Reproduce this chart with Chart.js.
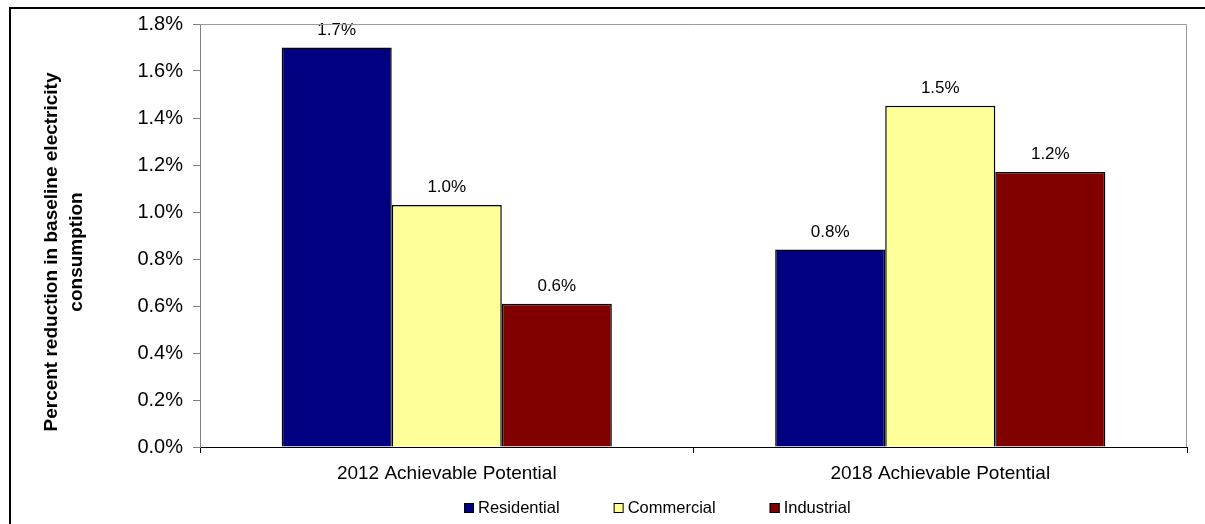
<!DOCTYPE html>
<html>
<head>
<meta charset="utf-8">
<title>Achievable Potential</title>
<script src="https://cdn.jsdelivr.net/npm/chart.js@4.4.1/dist/chart.umd.min.js"></script>
<style>
	html, body { margin: 0; padding: 0; background: #fff; }
	#contenedor { width: 1205px; height: 524px; }
</style>
</head>
<body>
<div id="contenedor"><canvas id="myChart" width="1205" height="524"></canvas></div>
<script>
// datos del grafico (porcentaje de reduccion)
const categorias = ['2012 Achievable Potential', '2018 Achievable Potential'];
const residencial = [1.70, 0.84];
const comercial = [1.03, 1.452];
const industrial = [0.61, 1.17];
const nombresSeries = ['Residential', 'Commercial', 'Industrial'];
const ejeYMin = 0, ejeYMax = 1.8, ejeYPaso = 0.2;
const tituloY = ['Percent reduction in baseline electricity', 'consumption'];

const fuente = 'Liberation Sans, Arial, Helvetica, sans-serif';
const colores = ['#000080', '#FFFF99', '#800000'];

// etiquetas con el valor arriba de cada barra
const etiquetasBarras = {
	id: 'etiquetasBarras',
	afterDatasetsDraw(chart) {
		const ctx = chart.ctx;
		ctx.save();
		ctx.font = '17px ' + fuente;
		ctx.fillStyle = '#000';
		ctx.textAlign = 'center';
		ctx.textBaseline = 'alphabetic';
		chart.data.datasets.forEach(function (ds, i) {
			chart.getDatasetMeta(i).data.forEach(function (bar, j) {
				ctx.fillText(ds.data[j].toFixed(1) + '%', bar.x, bar.y - 13);
			});
		});
		ctx.restore();
	}
};

// marco exterior, borde gris del area y titulo del eje Y
const marco = {
	id: 'marco',
	afterDraw(chart) {
		const ctx = chart.ctx;
		const a = chart.chartArea;
		ctx.save();
		ctx.strokeStyle = '#000';
		ctx.lineWidth = 2;
		ctx.beginPath();
		ctx.moveTo(10, chart.height + 5);
		ctx.lineTo(10, 8);
		ctx.lineTo(chart.width + 5, 8);
		ctx.stroke();

		ctx.strokeStyle = '#9a9a9a';
		ctx.lineWidth = 1;
		ctx.beginPath();
		ctx.moveTo(a.left, Math.round(a.top) + 0.5);
		ctx.lineTo(Math.round(a.right) - 0.5, Math.round(a.top) + 0.5);
		ctx.lineTo(Math.round(a.right) - 0.5, a.bottom);
		ctx.stroke();

		// titulo del eje en dos lineas
		ctx.translate(64, 252);
		ctx.rotate(-Math.PI / 2);
		ctx.font = 'bold 19px ' + fuente;
		ctx.fillStyle = '#000';
		ctx.textAlign = 'center';
		ctx.textBaseline = 'middle';
		ctx.fillText(tituloY[0], 0, -12);
		ctx.fillText(tituloY[1], 0, 13);
		ctx.restore();
	}
};

// leyenda abajo con cuadritos
const leyenda = {
	id: 'leyenda',
	afterDraw(chart) {
		const ctx = chart.ctx;
		ctx.save();
		ctx.font = '16.5px ' + fuente;
		ctx.textBaseline = 'middle';
		ctx.textAlign = 'left';
		let x = 464;
		const y = 508;
		chart.data.datasets.forEach(function (ds) {
			ctx.fillStyle = ds.backgroundColor;
			ctx.fillRect(x, y - 5, 10, 10);
			ctx.strokeStyle = '#000';
			ctx.lineWidth = 1;
			ctx.strokeRect(x + 0.5, y - 4.5, 9, 9);
			ctx.fillStyle = '#000';
			ctx.fillText(ds.label, x + 14, y);
			x += 14 + ctx.measureText(ds.label).width + 54;
		});
		ctx.restore();
	}
};

const ctx = document.getElementById('myChart').getContext('2d');
const myChart = new Chart(ctx, {
	type: 'bar',
	data: {
		labels: categorias,
		datasets: [residencial, comercial, industrial].map(function (valores, i) {
			return {
				label: nombresSeries[i],
				data: valores,
				backgroundColor: colores[i],
				borderColor: '#000',
				borderWidth: 1.5,
				categoryPercentage: 0.669,
				barPercentage: 1
			};
		})
	},
	options: {
		responsive: false,
		animation: false,
		events: [],
		layout: {
			padding: { left: 10, right: 18, top: 24, bottom: 37 }
		},
		plugins: {
			legend: { display: false },
			tooltip: { enabled: false }
		},
		scales: {
			x: {
				grid: {
					display: true,
					drawOnChartArea: false,
					offset: true,
					tickLength: 6,
					color: '#000'
				},
				border: { color: '#000', width: 1 },
				ticks: {
					color: '#000',
					padding: 9,
					font: { family: fuente, size: 19 }
				},
				afterFit: function (scale) { scale.height = 40; }
			},
			y: {
				min: ejeYMin,
				max: ejeYMax,
				grid: {
					display: true,
					drawOnChartArea: false,
					tickLength: 7,
					color: '#808080'
				},
				border: { color: '#808080', width: 1 },
				ticks: {
					stepSize: ejeYPaso,
					color: '#000',
					padding: 10,
					font: { family: fuente, size: 20 },
					callback: function (v) { return v.toFixed(1) + '%'; }
				},
				afterFit: function (scale) { scale.width = 190; }
			}
		}
	},
	plugins: [etiquetasBarras, marco, leyenda]
});
</script>
</body>
</html>
